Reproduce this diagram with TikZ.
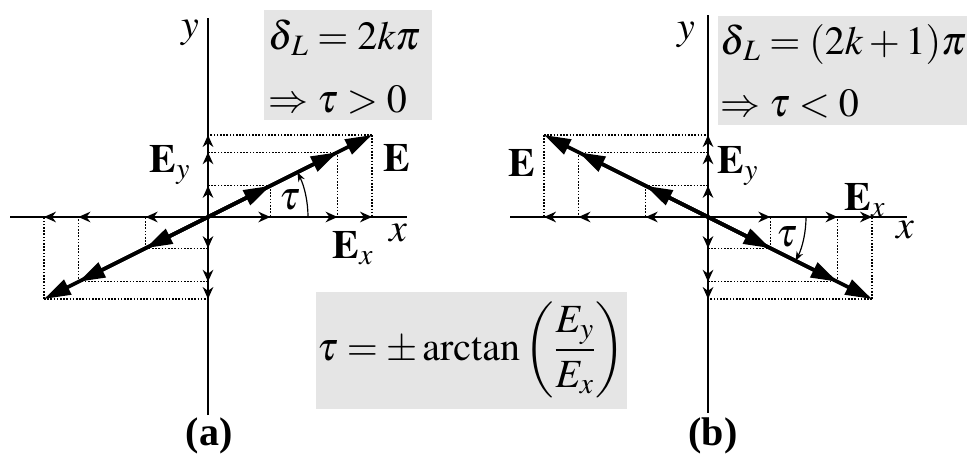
\documentclass[tikz,border=0pt]{standalone}
\usepackage{amsmath,amssymb}
\usepackage{mathptmx}
\usepackage{fontspec}
\setmainfont{Liberation Serif}
\usepackage{tikz}
\usetikzlibrary{calc,arrows.meta}
\usepackage{xcolor}
\definecolor{boxgray}{RGB}{229,229,229}

\tikzset{
  field/.style={line width=2.8pt, -{Triangle[length=20pt,width=12pt]}},
  comp/.style={line width=1.1pt, -{Stealth[length=9pt,width=8pt]}},
  proj/.style={line width=0.9pt, dash pattern=on 1.2pt off 1.2pt},
  axis/.style={line width=1.1pt},
  lbl/.style={font=\fontsize{30}{36}\selectfont, inner sep=0pt},
}

\begin{document}
\begin{tikzpicture}[x=0.75pt, y=0.75pt, >=Stealth]
  \useasboundingbox (0,0) rectangle (969,461);
  % grey boxes
  \fill[boxgray] (264,341) rectangle (432,451);
  \fill[boxgray] (718,336) rectangle (967,445);
  \fill[boxgray] (316,52) rectangle (627,169);
  % panel (a)
  \coordinate (Oa) at (208,244);
  \draw[axis] (10,244) -- (407,244);
  \draw[axis] (208,46) -- (208,443);
  \foreach \f in {0.38,0.79,1,-0.38,-0.79,-1} {
    \coordinate (P) at ($(Oa)+\f*(164,82)$);
    \draw[proj] (P) -- (P |- Oa);
    \draw[proj] (P) -- (Oa |- P);
    \draw[comp] (Oa) -- (P |- Oa);
    \draw[comp] (Oa) -- (Oa |- P);
    \draw[field] (Oa) -- (P);
  }
  \draw[line width=0.9pt,->] ($(Oa)+(100,0)$) arc[start angle=0, end angle=26.6, radius=100];
  \node[lbl] (tauA) at (290,261) {$\tau$};
  \node[lbl] (EA) at (397,303) {$\mathbf{E}$};
  \node[lbl] (EyA) at (170,296) {$\mathbf{E}_y$};
  \node[lbl] (ExA) at (353,213) {$\mathbf{E}_x$};
  \node[lbl] (xA) at (398,228) {$x$};
  \node[lbl] (yA) at (190,428) {$y$};
  \node[lbl, anchor=base west] (dA) at (268,411) {$\delta_{\,L} = 2k\pi$};
  \node[lbl, anchor=base west] (tA) at (268,348) {$\Rightarrow \tau > 0$};
  \node[lbl] (labA) at (209,25) {\textbf{(a)}};
  % panel (b)
  \coordinate (Ob) at (708,244);
  \draw[axis] (510,244) -- (907,244);
  \draw[axis] (708,48) -- (708,446);
  \foreach \f in {0.38,0.79,1,-0.38,-0.79,-1} {
    \coordinate (Q) at ($(Ob)+\f*(-164,82)$);
    \draw[proj] (Q) -- (Q |- Ob);
    \draw[proj] (Q) -- (Ob |- Q);
    \draw[comp] (Ob) -- (Q |- Ob);
    \draw[comp] (Ob) -- (Ob |- Q);
    \draw[field] (Ob) -- (Q);
  }
  \draw[line width=0.9pt,->] ($(Ob)+(98,0)$) arc[start angle=0, end angle=-26.6, radius=98];
  \node[lbl] (tauB) at (787,224) {$\tau$};
  \node[lbl] (EB) at (522,298) {$\mathbf{E}$};
  \node[lbl] (EyB) at (738,295) {$\mathbf{E}_y$};
  \node[lbl] (ExB) at (865,261) {$\mathbf{E}_x$};
  \node[lbl] (xB) at (905,231) {$x$};
  \node[lbl] (yB) at (686,426) {$y$};
  \node[lbl, anchor=base west] (dB) at (720,406) {$\delta_{\,L} = (2k+1)\pi$};
  \node[lbl, anchor=base west] (tB) at (720,344) {$\Rightarrow \tau < 0$};
  \node[lbl] (labB) at (713,25) {\textbf{(b)}};
  % formula
  \node[lbl] (tanf) at (471,111) {$\tau = \pm\arctan\left(\dfrac{E_y}{E_x}\right)$};
\end{tikzpicture}
\end{document}
